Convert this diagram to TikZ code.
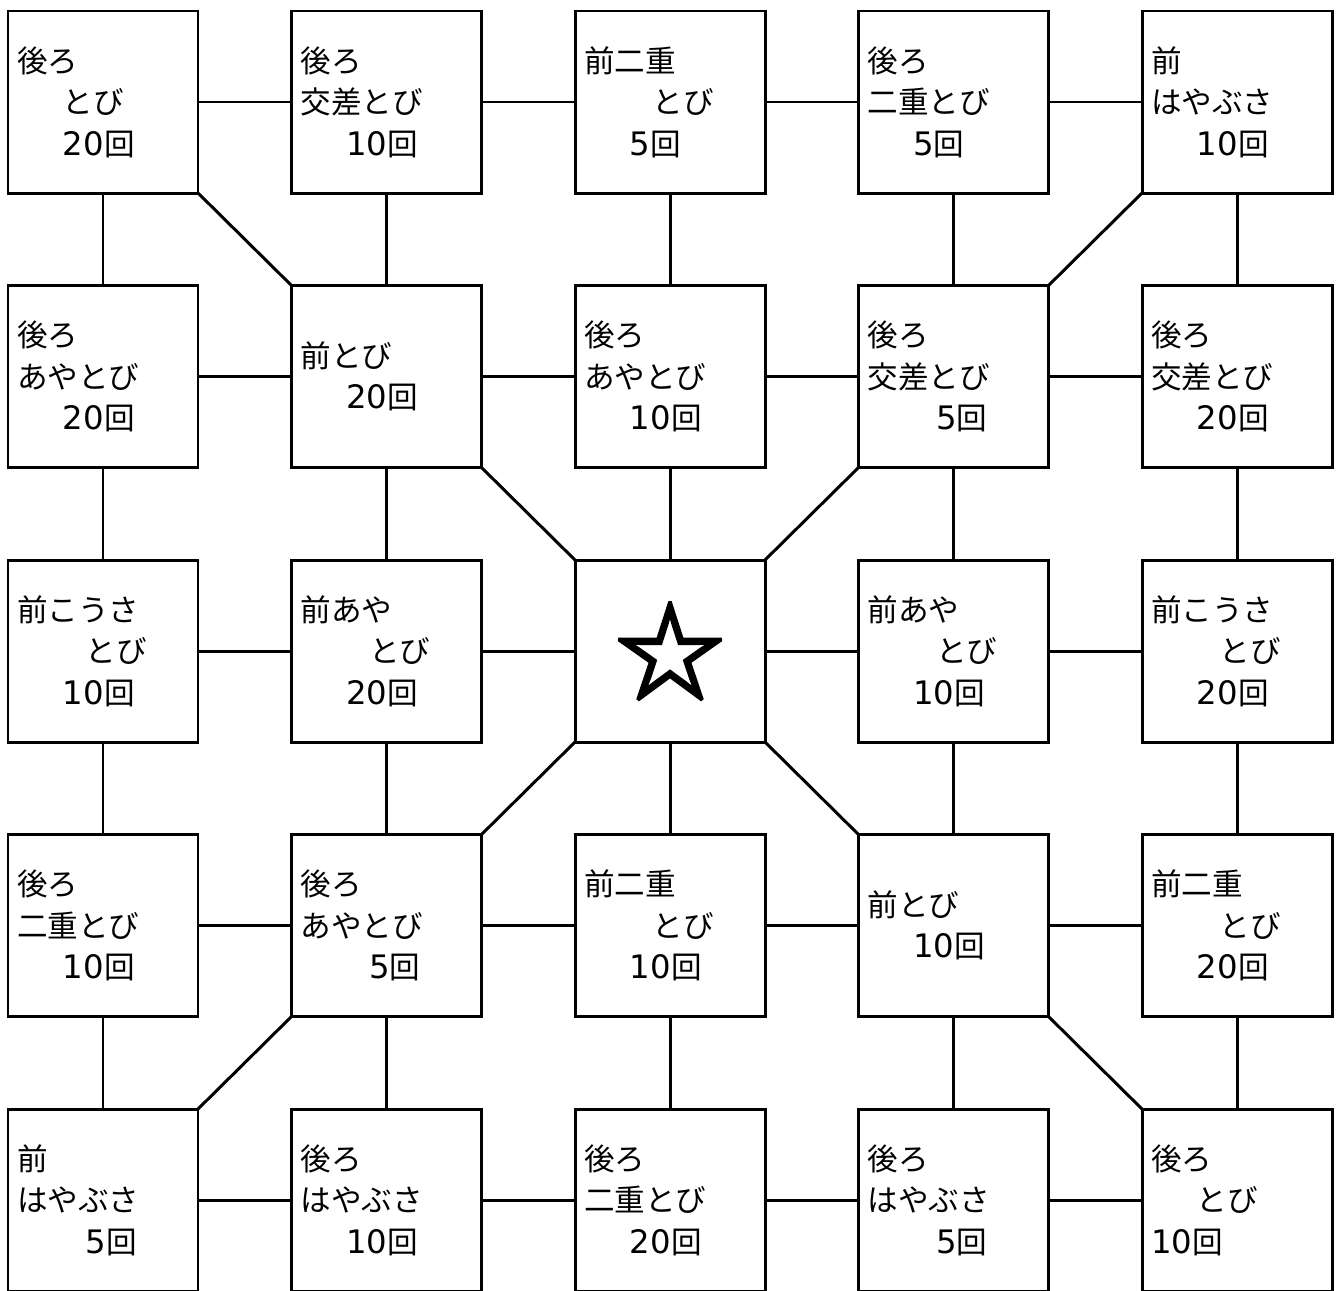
\documentclass[tikz,border=0pt]{standalone}
\usepackage{fontspec}
\setmainfont{Noto Sans CJK JP}
\newfontfamily\sujifont{DejaVu Sans}
\newfontfamily\hoshifont[FakeBold=3]{Noto Sans CJK JP}
\usepackage{tikz}
\usetikzlibrary{positioning}
\newcommand{\ichi}{\hspace*{1.5em}}
\newcommand{\futa}{\hspace*{2.25em}}
\newcommand{\kai}[1]{{\sujifont\fontsize{9.2}{11.8}\selectfont #1}回}
\tikzset{
  masu/.style={rectangle, draw=black, line width=0.85pt, fill=white,
    minimum width=19mm, minimum height=18.2mm, text width=17.2mm,
    inner xsep=0.9mm, inner ysep=0pt, outer sep=0pt, align=left,
    font=\fontsize{8.7}{11.8}\selectfont},
  hoshi/.style={masu, align=center, font=\hoshifont\fontsize{31}{31}\selectfont},
  sen/.style={line width=0.85pt, color=black}
}

\begin{document}
\begin{tikzpicture}[node distance=9.25mm and 9.35mm]
  \useasboundingbox (0,0) rectangle (13.4,-12.9);
  \clip (0,0) rectangle (13.4,-12.9);
  % fila 1
  \node[masu] (a11) at (1.03,-1.02) {後ろ\\\ichi とび\\\ichi\kai{20}};
  \node[masu, right=of a11] (a12) {後ろ\\交差とび\\\ichi\kai{10}};
  \node[masu, right=of a12] (a13) {前二重\\\futa とび\\\ichi\kai{5}};
  \node[masu, right=of a13] (a14) {後ろ\\二重とび\\\ichi\kai{5}};
  \node[masu, right=of a14] (a15) {前\\はやぶさ\\\ichi\kai{10}};
  % fila 2
  \node[masu, below=of a11] (a21) {後ろ\\あやとび\\\ichi\kai{20}};
  \node[masu, right=of a21] (a22) {前とび\\\ichi\kai{20}};
  \node[masu, right=of a22] (a23) {後ろ\\あやとび\\\ichi\kai{10}};
  \node[masu, right=of a23] (a24) {後ろ\\交差とび\\\futa\kai{5}};
  \node[masu, right=of a24] (a25) {後ろ\\交差とび\\\ichi\kai{20}};
  % fila 3
  \node[masu, below=of a21] (a31) {前こうさ\\\futa とび\\\ichi\kai{10}};
  \node[masu, right=of a31] (a32) {前あや\\\futa とび\\\ichi\kai{20}};
  \node[hoshi, right=of a32] (a33) {☆};
  \node[masu, right=of a33] (a34) {前あや\\\futa とび\\\ichi\kai{10}};
  \node[masu, right=of a34] (a35) {前こうさ\\\futa とび\\\ichi\kai{20}};
  % fila 4
  \node[masu, below=of a31] (a41) {後ろ\\二重とび\\\ichi\kai{10}};
  \node[masu, right=of a41] (a42) {後ろ\\あやとび\\\futa\kai{5}};
  \node[masu, right=of a42] (a43) {前二重\\\futa とび\\\ichi\kai{10}};
  \node[masu, right=of a43] (a44) {前とび\\\ichi\kai{10}};
  \node[masu, right=of a44] (a45) {前二重\\\futa とび\\\ichi\kai{20}};
  % fila 5
  \node[masu, below=of a41] (a51) {前\\はやぶさ\\\futa\kai{5}};
  \node[masu, right=of a51] (a52) {後ろ\\はやぶさ\\\ichi\kai{10}};
  \node[masu, right=of a52] (a53) {後ろ\\二重とび\\\ichi\kai{20}};
  \node[masu, right=of a53] (a54) {後ろ\\はやぶさ\\\futa\kai{5}};
  \node[masu, right=of a54] (a55) {後ろ\\\ichi とび\\\kai{10}};
  % lineas horizontales
  \draw[sen] (a11) -- (a12) (a12) -- (a13) (a13) -- (a14) (a14) -- (a15);
  \draw[sen] (a21) -- (a22) (a22) -- (a23) (a23) -- (a24) (a24) -- (a25);
  \draw[sen] (a31) -- (a32) (a32) -- (a33) (a33) -- (a34) (a34) -- (a35);
  \draw[sen] (a41) -- (a42) (a42) -- (a43) (a43) -- (a44) (a44) -- (a45);
  \draw[sen] (a51) -- (a52) (a52) -- (a53) (a53) -- (a54) (a54) -- (a55);
  % lineas verticales
  \draw[sen] (a11) -- (a21) (a21) -- (a31) (a31) -- (a41) (a41) -- (a51);
  \draw[sen] (a12) -- (a22) (a22) -- (a32) (a32) -- (a42) (a42) -- (a52);
  \draw[sen] (a13) -- (a23) (a23) -- (a33) (a33) -- (a43) (a43) -- (a53);
  \draw[sen] (a14) -- (a24) (a24) -- (a34) (a34) -- (a44) (a44) -- (a54);
  \draw[sen] (a15) -- (a25) (a25) -- (a35) (a35) -- (a45) (a45) -- (a55);
  % diagonales
  \draw[sen] (a11.south east) -- (a22.north west);
  \draw[sen] (a15.south west) -- (a24.north east);
  \draw[sen] (a22.south east) -- (a33.north west);
  \draw[sen] (a24.south west) -- (a33.north east);
  \draw[sen] (a33.south west) -- (a42.north east);
  \draw[sen] (a33.south east) -- (a44.north west);
  \draw[sen] (a42.south west) -- (a51.north east);
  \draw[sen] (a44.south east) -- (a55.north west);
\end{tikzpicture}
\end{document}
